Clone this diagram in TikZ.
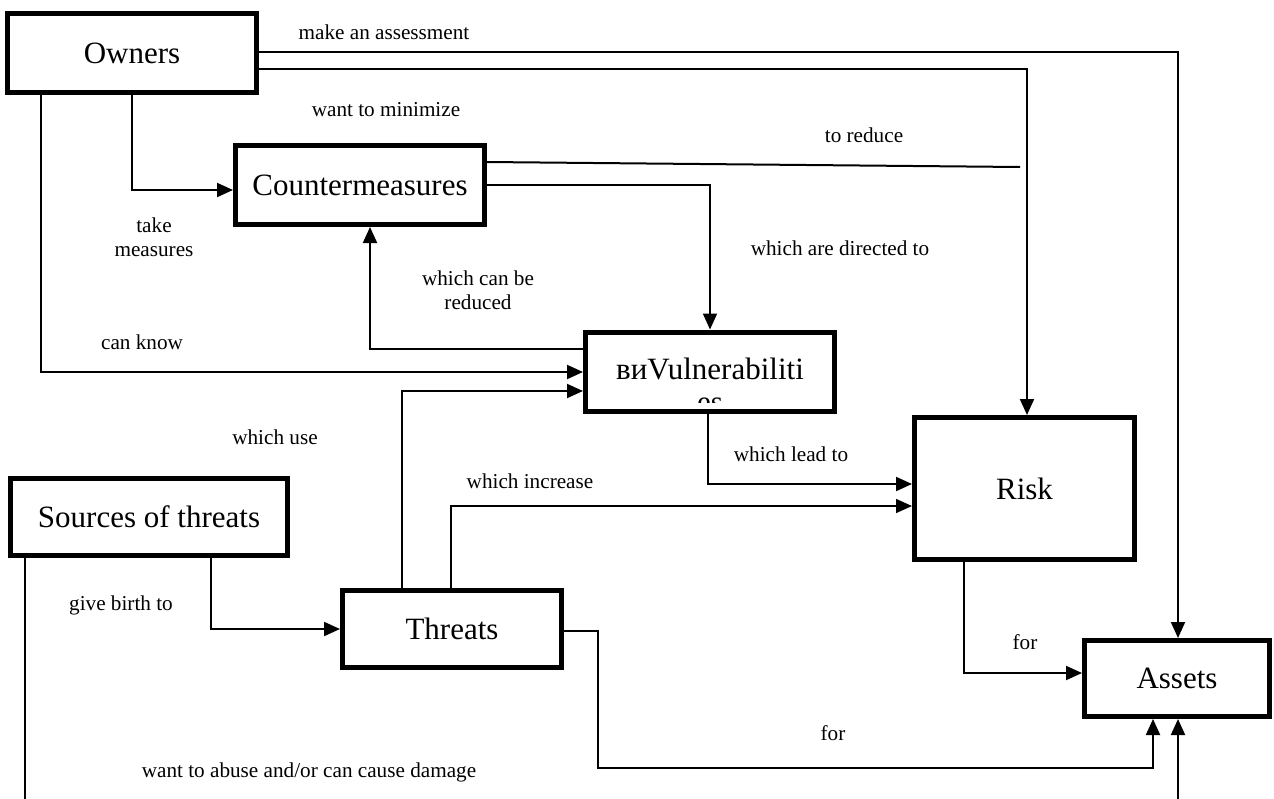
\documentclass[tikz,border=0pt]{standalone}
\usepackage{fontspec}
\setmainfont{Liberation Serif}
\usetikzlibrary{arrows.meta}
\begin{document}
\begin{tikzpicture}[x=0.5pt, y=-0.5pt,
  box/.style={draw, line width=2.5pt, minimum width=124.5pt, minimum height=39.5pt, inner sep=0pt, font=\fontsize{15.5}{18}\selectfont},
  lbl/.style={inner sep=0pt, align=center, font=\fontsize{10.6}{12}\selectfont},
  arr/.style={line width=1pt, -{Triangle[length=8pt,width=7pt]}},
  con/.style={line width=1pt}]
\useasboundingbox (0,0) rectangle (1274,798);
% boxes
\node[box] (own) at (132,53) {Owners};
\node[box] (cm) at (360,185) {Countermeasures};
\node[box] (vul) at (710,371.5) {\raisebox{3pt}{виVulnerabiliti}};
\node[box, minimum width=138.5pt, minimum height=38.5pt] (src) at (149,517) {Sources of threats};
\node[box, minimum width=109.5pt, minimum height=38.5pt] (thr) at (452,629) {Threats};
\node[box, minimum width=110pt, minimum height=71pt] (rsk) at (1024.5,488.5) {Risk};
\node[box, minimum width=92.5pt, minimum height=38pt] (ast) at (1177,678.5) {Assets};
\begin{scope}
\clip (vul.north west) rectangle (vul.east |- 0,402);
\node[anchor=base, inner sep=0pt, font=\fontsize{15.5}{18}\selectfont] (vulrest) at (710,412) {es};
\end{scope}
% connectors
\draw[arr] (own.east |- 0,52) -| (ast.north -| 1178,0);
\draw[arr] (own.east |- 0,69) -| (rsk.north -| 1027,0);
\draw[arr] (own.south -| 132,0) |- (cm.west |- 0,190);
\draw[arr] (own.south -| 41,0) |- (vul.west |- 0,372);
\draw[arr] (cm.east) -| (vul.north -| 710,0);
\coordinate (redend) at (1020,167);
\draw[con] (cm.east |- 0,162) -- (redend);
\draw[arr] (vul.west |- 0,349) -| (cm.south -| 370,0);
\draw[arr] (thr.north -| 402,0) |- (vul.west |- 0,391);
\draw[con, -{Triangle[length=8pt,width=7pt]}, line width=0.7pt] (thr.north -| 451,0) |- (rsk.west |- 0,506);
\draw[arr] (vul.south -| 708,0) |- (rsk.west |- 0,484);
\draw[arr] (src.south -| 211,0) |- (thr.west |- 0,629);
\draw[arr] (src.south -| 25,0) -- (25,815) -| (ast.south -| 1178,0);
\draw[arr] (thr.east |- 0,631) -| (598,768) -| (ast.south -| 1153,0);
\draw[arr] (rsk.south -| 964,0) |- (ast.west |- 0,673);
% labels
\node[lbl] (l1) at (384,32) {make an assessment};
\node[lbl] (l2) at (386,110) {want to minimize};
\node[lbl] (l3) at (864,135) {to reduce};
\node[lbl] (l4) at (154,237) {take\\measures};
\node[lbl] (l5) at (478,290) {which can be\\reduced};
\node[lbl] (l6) at (840,248) {which are directed to};
\node[lbl] (l7) at (142,342) {can know};
\node[lbl] (l8) at (275,437) {which use};
\node[lbl] (l9) at (791,454) {which lead to};
\node[lbl] (l10) at (530,481) {which increase};
\node[lbl] (l11) at (121,605) {give birth to};
\node[lbl] (l12) at (1025,642) {for};
\node[lbl] (l13) at (833,733) {for};
\node[lbl] (l14) at (309,772) {want to abuse and/or can cause damage};
\end{tikzpicture}
\end{document}
